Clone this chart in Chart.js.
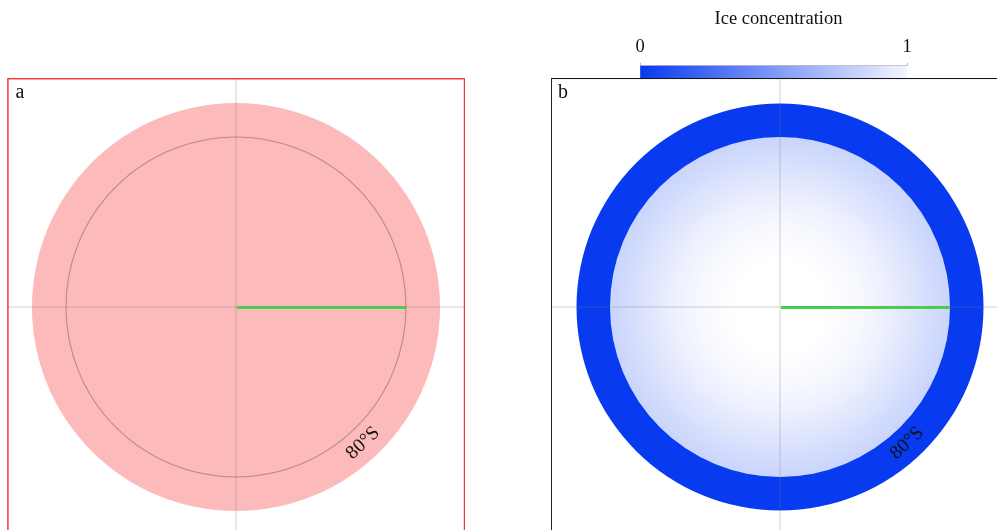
<!DOCTYPE html>
<html><head><meta charset="utf-8">
<style>
html,body{margin:0;padding:0;width:997px;height:530px;overflow:hidden;background:#fff}
canvas{position:absolute;display:block}
#a{left:7px;top:78px}
#b{left:551px;top:78px}
#cb{left:600px;top:0}
</style>
<script src="https://cdn.jsdelivr.net/npm/chart.js@4/dist/chart.umd.js"></script>
</head><body>
<canvas id="b" width="458" height="458"></canvas>
<canvas id="cb" width="357" height="79"></canvas>
<canvas id="a" width="458" height="458"></canvas>
<script>
// Polar map coordinates: colatitude in degrees from the South Pole
const scaleMaxColat = 13.47;
const graticuleColat = 10;
const meridianLabels = ['90°E', '180°', '90°W', '0°'];
const transectColat = [0, 10];
const parallelLabel = '80°S';
const parallelLabelColat = 10.95;
const parallelLabelBearing = 47;

// Panel a: grid domain
const gridDomainColat = [12];

// Panel b: ice concentration read along the radius
const iceColat = [2.4, 2.8, 3.2, 3.5, 3.8, 4.1, 4.4, 4.7, 5, 5.3, 5.6, 5.9, 6.2, 6.5, 6.8, 7, 7.3, 7.6, 7.9, 8.2, 8.5, 8.8, 9.1, 9.4, 9.7, 10, 11.97];
const iceConc = [1, 0.998, 0.995, 0.99, 0.985, 0.98, 0.975, 0.97, 0.963, 0.955, 0.948, 0.94, 0.93, 0.92, 0.91, 0.90, 0.89, 0.88, 0.87, 0.86, 0.85, 0.83, 0.82, 0.81, 0.80, 0.79, 0];

// Colour bar
const barLabels = ['Ice concentration'];
const barValues = [1];
const barTicks = [0, 1];
const barTitle = 'Ice concentration';

const BLUE = [8, 58, 240];
const rampColor = c => 'rgb(' + BLUE.map(v => Math.round(v + (255 - v) * c)).join(',') + ')';
const SERIF = '"Liberation Serif", "Times New Roman", serif';

const mapDecor = (letter, frameColor) => ({
  id: 'mapDecor',
  afterDatasetsDraw(chart) {
    const {ctx, scales: {r}} = chart;
    const d0 = r.getDistanceFromCenterForValue(transectColat[0]);
    const d1 = r.getDistanceFromCenterForValue(transectColat[1]);
    ctx.save();
    ctx.strokeStyle = '#43d94a';
    ctx.lineWidth = 3;
    ctx.beginPath();
    ctx.moveTo(r.xCenter + d0 + 1, r.yCenter + 0.5);
    ctx.lineTo(r.xCenter + d1, r.yCenter + 0.5);
    ctx.stroke();

    const ang = parallelLabelBearing * Math.PI / 180;
    const d = r.getDistanceFromCenterForValue(parallelLabelColat);
    ctx.translate(r.xCenter + d * Math.cos(ang), r.yCenter + d * Math.sin(ang));
    ctx.rotate(-(90 - parallelLabelBearing) * Math.PI / 180);
    ctx.fillStyle = '#111';
    ctx.font = '19.5px ' + SERIF;
    ctx.textAlign = 'center';
    ctx.textBaseline = 'middle';
    ctx.fillText(parallelLabel, 0, 0);
    ctx.restore();

    ctx.save();
    ctx.strokeStyle = frameColor;
    ctx.lineWidth = letter === 'a' ? 1.5 : 1.3;
    ctx.strokeRect(letter === 'a' ? 0.9 : 0.3, letter === 'a' ? 0.7 : 0.4, 456.6, 470);
    ctx.fillStyle = '#111';
    ctx.font = '20px ' + SERIF;
    ctx.textBaseline = 'alphabetic';
    ctx.fillText(letter, letter === 'a' ? 8.5 : 7, 20);
    ctx.restore();
  }
});

function mapChart(id, datasets, letter, frameColor, circleColor, ticksList) {
  return new Chart(document.getElementById(id), {
    type: 'polarArea',
    data: {labels: meridianLabels, datasets},
    plugins: [mapDecor(letter, frameColor)],
    options: {
      responsive: false,
      animation: false,
      events: [],
      layout: {padding: 0},
      elements: {arc: {borderWidth: 0}},
      plugins: {legend: {display: false}, tooltip: {enabled: false}},
      scales: {
        r: {
          min: 0,
          max: scaleMaxColat,
          afterBuildTicks: s => { s.ticks = ticksList.map(v => ({value: v})); },
          ticks: {display: false},
          pointLabels: {display: false},
          grid: {display: true, color: circleColor, lineWidth: 1.1, z: 1},
          angleLines: {display: true, color: 'rgba(120,120,125,0.34)', lineWidth: 1}
        }
      }
    }
  });
}

mapChart('a', gridDomainColat.map(v => ({data: [v], backgroundColor: '#fcbaba'})), 'a', '#f5383c', 'rgba(125,85,90,0.5)', [0, graticuleColat]);
mapChart('b', iceColat.map((v, i) => ({data: [v], backgroundColor: rampColor(iceConc[i])})), 'b', '#1a1414', 'rgba(0,0,0,0)', [0, graticuleColat]);

new Chart(document.getElementById('cb'), {
  type: 'bar',
  data: {
    labels: barLabels,
    datasets: [{
      data: barValues,
      barPercentage: 1,
      categoryPercentage: 1,
      borderWidth: 0,
      backgroundColor(c) {
        const area = c.chart.chartArea;
        if (!area) return rampColor(0);
        const g = c.chart.ctx.createLinearGradient(area.left, 0, area.right, 0);
        g.addColorStop(0, rampColor(0));
        g.addColorStop(1, rampColor(0.95));
        return g;
      }
    }]
  },
  options: {
    indexAxis: 'y',
    responsive: false,
    animation: false,
    events: [],
    layout: {padding: {left: 40, right: 40, top: 0, bottom: 1}},
    plugins: {
      legend: {display: false},
      tooltip: {enabled: false},
      title: {display: true, text: barTitle, color: '#111', font: {family: SERIF, size: 18.5, weight: 'normal'}, padding: {top: 8, bottom: 0}}
    },
    scales: {
      y: {
        position: 'right',
        afterFit: s => { s.width = 10; },
        ticks: {display: false},
        grid: {display: false},
        border: {display: false}
      },
      x: {
        position: 'top',
        min: 0,
        max: 1,
        afterBuildTicks: s => { s.ticks = barTicks.map(v => ({value: v})); },
        afterFit: s => { s.height = 35.5; },
        ticks: {color: '#111', font: {family: SERIF, size: 18.5}, maxRotation: 0, padding: 4},
        grid: {drawOnChartArea: false, color: '#bdbdc2', tickLength: 3, lineWidth: 1},
        border: {display: true, color: '#bdbdc2'}
      }
    }
  }
});
</script>
</body></html>
